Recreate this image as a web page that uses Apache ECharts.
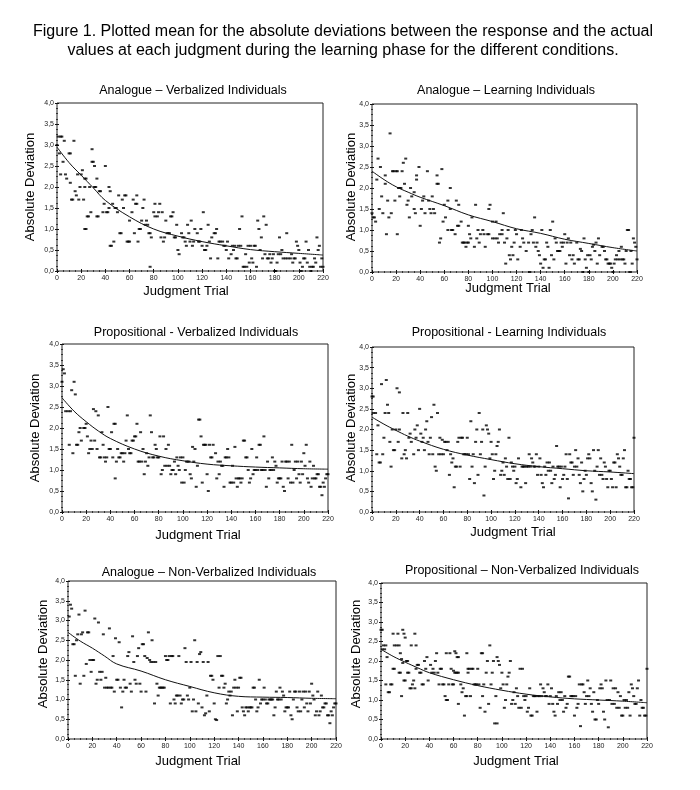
<!DOCTYPE html>
<html><head><meta charset="utf-8">
<style>html,body{margin:0;padding:0;background:#fff}#c{width:700px;height:790px}</style>
<script src="https://cdn.jsdelivr.net/npm/echarts@6/dist/echarts.min.js"></script></head>
<body><div id="c"></div>
<script>
const headline = "Figure 1. Plotted mean for the absolute deviations between the response and the actual\nvalues at each judgment during the learning phase for the different conditions.";
const panelTitles = ["Analogue \u2013 Verbalized Individuals","Analogue \u2013 Learning Individuals","Propositional - Verbalized Individuals","Propositional - Learning Individuals","Analogue \u2013 Non-Verbalized Individuals","Propositional \u2013 Non-Verbalized Individuals"];
const xTicks = [0,20,40,60,80,100,120,140,160,180,200,220];
const fitTrials = [0,10,20,30,40,60,80,100,120,140,160,180,200,220];

const fit1 = [2.95,2.58,2.28,1.98,1.68,1.29,1.0,0.83,0.7,0.6,0.51,0.46,0.42,0.38];
const fit2 = [2.4,2.2,2.03,1.9,1.78,1.58,1.36,1.2,1.03,0.92,0.78,0.68,0.58,0.5];
const fit3 = [2.72,2.4,2.15,1.93,1.75,1.5,1.33,1.22,1.14,1.1,1.07,1.05,1.03,1.02];
const fit4 = [2.3,2.13,1.98,1.84,1.72,1.52,1.38,1.27,1.17,1.1,1.05,1.0,0.97,0.93];
const fit5 = [2.7,2.48,2.3,2.1,1.9,1.72,1.5,1.33,1.17,1.08,1.06,1.05,1.03,1.02];
const fit6 = [2.3,2.12,1.97,1.83,1.7,1.52,1.37,1.25,1.15,1.08,1.03,1.0,0.97,0.93];

const pts1 = [[0,3],[1,3.2],[3,3.2],[4,3.2],[2,2.8],[3,2.3],[5,2.6],[6,3.1],[7,2.3],[8,2.2],[10,2.8],[11,2.8],[11,2.1],[12,1.7],[13,1.7],[14,3.1],[15,1.9],[16,1.8],[17,2.3],[18,1.7],[19,2],[20,2.3],[21,2.4],[22,1.7],[23,2.2],[24,2.2],[23,2],[23,1],[24,1],[25,1.3],[26,1.3],[27,2],[28,1.4],[29,2.9],[29,2.6],[30,2.6],[31,2.5],[31,2],[32,2],[33,2.2],[33,1.3],[34,1.3],[35,1.9],[36,1.9],[38,1.4],[39,1.6],[40,2.5],[41,1.4],[42,1.4],[43,1.5],[43,2],[44,1.9],[44,0.6],[45,0.6],[46,1.6],[47,0.7],[48,1.5],[49,1.5],[50,1.4],[51,1.8],[52,0.9],[53,0.9],[54,1.7],[55,1.5],[56,1.8],[57,1.8],[58,0.7],[59,0.7],[60,0.7],[60,1.2],[62,1.4],[63,1.7],[64,0.9],[65,1.6],[66,1.6],[66,1.8],[67,0.7],[68,1],[69,1],[70,1.2],[71,1.5],[72,1.7],[73,1.1],[74,1.2],[75,1.1],[76,0.9],[77,0.9],[77,0.1],[78,0.8],[80,1.4],[81,1.3],[81,1.6],[83,1.3],[84,1.4],[85,1.6],[86,0.8],[87,1.4],[88,0.7],[89,0.8],[90,1.2],[91,0.9],[92,0.9],[93,0.9],[94,1.3],[95,1.3],[96,1.4],[97,0.8],[98,0.8],[99,1.1],[100,0.5],[101,0.4],[103,0.9],[104,0.8],[105,0.8],[106,0.7],[107,0.6],[108,1.1],[109,0.9],[110,0.7],[111,1.2],[112,0.6],[113,0.7],[114,1],[116,0.9],[117,0.7],[118,0.7],[119,1],[120,0.6],[121,1.4],[122,0.5],[123,0.5],[124,0.6],[125,1.1],[126,0.7],[127,0.3],[128,0.8],[130,0.9],[131,0.9],[132,1],[133,0.3],[134,0.7],[135,0.7],[137,0.7],[138,0.6],[139,0.6],[140,0.5],[141,0.7],[142,0.3],[144,0.4],[145,0.6],[146,0.5],[147,0.6],[148,0.3],[149,0.3],[150,0.6],[151,1],[152,0.6],[153,1.3],[154,0.1],[155,0.1],[156,0.4],[157,0.1],[158,0.6],[159,0.2],[160,0.6],[161,0.3],[162,0.2],[163,0.6],[164,0.6],[165,0.1],[166,1.2],[167,1],[168,0.5],[169,0.8],[170,0.3],[171,1.3],[172,0.4],[173,1.1],[174,0.3],[175,0.3],[176,0.4],[177,0.2],[178,0.3],[179,0.4],[180,0],[181,0],[182,0.2],[183,0.4],[184,0.8],[185,0.4],[186,0.5],[187,0.3],[189,0.3],[190,0.9],[191,0.3],[193,0.3],[194,0.4],[195,0.2],[196,0.3],[197,0.3],[198,0.7],[199,0.6],[200,0.5],[201,0.2],[202,0],[203,0.1],[204,0.3],[205,0.3],[206,0.7],[207,0.2],[208,0.5],[209,0.1],[210,0],[211,0.1],[212,0.1],[213,0.3],[214,0.2],[215,0.8],[216,0.5],[217,0.6],[218,0.1],[219,0.3],[220,0.1]];

const pts2 = [[0,1.4],[1,1.3],[2,1.3],[3,1.2],[4,2.2],[5,2.7],[6,1.5],[7,2.5],[8,1.8],[9,1.4],[11,2.3],[11,2.1],[12,0.9],[13,1.7],[14,1.3],[15,3.3],[16,1.4],[17,2.4],[18,2.4],[19,1.7],[20,2.4],[21,0.9],[21,2.4],[22,2],[23,1.8],[23,2],[24,2],[25,2.4],[26,2.6],[27,2.1],[28,2.7],[29,1.6],[30,1.7],[31,1.3],[32,2],[33,1.8],[35,1.9],[35,1.5],[36,1.4],[37,2.3],[37,2.2],[39,2.5],[40,1.1],[41,1.5],[42,1.7],[43,1.8],[44,1.4],[46,2.4],[47,1.7],[48,1.5],[49,1.4],[50,1.8],[51,1.5],[52,1.4],[54,2.1],[54,2.3],[55,2.1],[56,0.7],[57,0.8],[58,2.45],[59,1.2],[60,1.6],[61,1.3],[63,1],[63,1.7],[65,1.5],[65,2],[66,1],[67,1],[69,0.9],[70,1.7],[71,1.1],[72,1.1],[72,1.6],[74,1.2],[75,0.7],[76,0.7],[77,0.7],[78,0.6],[79,0.7],[80,0.7],[80,1.1],[81,0.9],[82,0.8],[83,1.3],[85,0.6],[86,1.6],[87,0.8],[88,1],[89,0.7],[90,0.9],[92,1],[93,0.9],[94,0.6],[96,0.9],[97,0.9],[97,1.5],[98,1.6],[100,1.2],[100,0.8],[102,0.8],[103,1.2],[104,0.8],[105,0.7],[106,0.9],[108,1],[108,0.9],[109,1.4],[110,0.7],[111,0.2],[112,0.8],[113,1],[114,0.4],[115,0.3],[116,0.6],[117,0.4],[118,0.7],[119,1],[120,0.9],[121,0.3],[123,0.6],[124,1],[125,0.8],[126,0.7],[128,0.5],[130,0.7],[131,0],[132,0.9],[133,1],[134,0.7],[135,1.3],[136,0.6],[137,0.7],[138,0.5],[139,0.4],[140,0.2],[141,1],[142,0.1],[143,0.3],[144,0.3],[145,0.7],[146,0.6],[147,0.1],[148,1],[149,0.4],[150,1.2],[151,0.3],[152,0.8],[153,0.7],[154,0.5],[155,0.5],[156,0.5],[157,0.7],[158,0.6],[159,0.7],[160,0.9],[161,0.2],[162,0.7],[163,0.8],[164,0.4],[165,0.7],[166,0.3],[167,0.4],[168,0.2],[170,0.7],[171,0.3],[172,0.3],[173,0.55],[174,0.5],[175,0],[176,0.8],[177,0.3],[178,0.1],[179,0.4],[180,0],[181,0.4],[182,0.3],[183,0.6],[184,0.65],[185,0.5],[186,0.7],[187,0.2],[188,0.8],[189,0.4],[191,0.6],[192,0.6],[193,0.5],[194,0.3],[195,0.3],[196,0.2],[197,0.2],[198,0.2],[199,0.1],[200,0],[201,0.2],[202,0.3],[203,0.4],[204,0.3],[205,0.5],[206,0.3],[207,0.6],[208,0.3],[209,0.3],[210,0.2],[211,0.5],[212,1],[213,1],[214,0],[215,0.5],[216,0.2],[217,0.8],[218,0.7],[219,0.6],[220,0.3]];

const pts3 = [[0,3.1],[1,3.4],[2,3.3],[3,2.4],[5,2.4],[6,1.6],[7,2.4],[8,2.9],[9,1.4],[10,3.1],[11,2.8],[12,1.6],[13,1.6],[14,1.9],[15,2],[16,1.7],[18,2],[19,2],[20,2.1],[21,1.8],[22,1.4],[23,1.5],[24,1.7],[25,1.5],[26,2.45],[27,1.7],[28,2.4],[29,1.5],[30,2.3],[31,1.3],[32,1.3],[33,1.9],[34,1.6],[35,1.3],[36,1.2],[37,1.3],[38,2.5],[39,1.5],[40,1.5],[41,1.9],[42,1.3],[43,2.1],[44,2.1],[44,0.8],[45,1.2],[46,1.5],[47,1.3],[48,1.3],[49,1.4],[50,1.4],[51,1.2],[52,1.4],[53,1.7],[54,2.3],[55,1.5],[56,1.4],[57,1.4],[58,1.7],[59,1.7],[60,1.8],[61,1.8],[62,2.1],[63,1.2],[64,1.2],[65,1.9],[66,1.2],[67,1.5],[68,0.9],[69,1.2],[70,1.4],[71,1.1],[72,1.3],[73,2.3],[74,1.9],[75,1.3],[76,1.3],[77,1.6],[78,1.5],[79,1.3],[80,1.3],[81,1.8],[82,0.9],[83,1],[84,1.8],[85,1.1],[86,1.5],[87,1.1],[88,1.6],[89,1.1],[90,0.9],[91,1],[92,1],[93,1.2],[94,0.9],[95,1.3],[96,1.1],[97,1],[98,1.3],[99,0.7],[100,1.3],[101,0.7],[102,1],[103,1.2],[104,1.2],[105,1.2],[106,0.9],[107,0.8],[108,1.55],[109,1.2],[110,1.5],[111,0.6],[112,1.1],[113,2.2],[114,2.2],[115,1.8],[116,0.7],[117,1.6],[118,1.6],[119,1.6],[120,0.9],[121,0.5],[122,1.6],[123,1.3],[124,1.3],[125,1.6],[127,1.4],[128,0.8],[129,1.2],[130,0.9],[131,1.2],[132,1.1],[133,1.1],[134,0.6],[135,1.3],[136,1.3],[137,1.5],[138,1.3],[139,0.7],[140,0.7],[141,1.1],[142,0.7],[143,1.55],[144,0.8],[145,0.6],[146,0.8],[147,0.8],[148,0.7],[149,0.8],[150,1.7],[151,1.7],[152,1.3],[153,1.3],[154,1],[155,0.7],[156,0.8],[157,1.5],[158,0.9],[159,1],[160,1],[161,1.3],[162,1],[163,1.6],[164,1.6],[165,1],[166,1],[167,1.8],[168,1],[169,0.6],[170,1.2],[171,0.8],[172,1],[173,1],[174,1.3],[175,1],[176,1.2],[177,1.1],[178,0.7],[179,0.8],[180,0.8],[181,0.8],[182,1.2],[183,0.6],[184,0.5],[185,1.2],[186,1.2],[187,0.8],[188,1.2],[189,0.7],[190,1.6],[191,0.7],[192,1],[193,1.2],[194,0.8],[195,1.2],[196,0.9],[197,0.7],[198,1.2],[199,0.9],[200,1.4],[201,1.1],[202,1.6],[203,0.8],[204,0.7],[205,1.2],[206,0.6],[207,0.8],[208,1.1],[209,0.8],[210,0.8],[211,0.9],[212,0.9],[213,0.6],[214,0.6],[215,0.4],[216,0.7],[217,0.6],[218,0.8],[219,0.9],[220,0.9]];

const pts4 = [[0,2.8],[1,2.8],[1,2.4],[3,2.4],[4,1.4],[5,2.1],[6,1.2],[7,1.2],[8,3.1],[9,1.4],[10,1.8],[11,2.4],[12,3.2],[13,2.6],[14,2.4],[15,1.7],[16,1.1],[17,2],[18,1.5],[19,1.5],[20,2],[21,3],[22,1.7],[23,2],[23,2.9],[25,1.3],[26,2.4],[27,1.4],[28,1.5],[29,1.3],[30,2.4],[31,1.8],[32,1.9],[33,1.7],[35,1.4],[36,2],[37,1.8],[38,2.1],[39,1.5],[40,2.5],[41,1.9],[42,1.7],[43,1.8],[44,1.5],[45,2],[46,2.2],[47,1.7],[48,1.4],[49,1.8],[50,2.3],[51,1.4],[52,2.6],[53,1.1],[54,1],[55,2.4],[56,1.4],[57,1.8],[58,1.4],[59,1.75],[60,1.4],[61,1.7],[62,1.7],[63,1.5],[64,1.7],[65,0.9],[66,1.4],[67,1.2],[68,1.3],[69,0.6],[70,1.1],[71,1.1],[72,1.7],[73,1.8],[74,1.1],[75,1.8],[76,1.8],[77,1.4],[78,1.4],[79,1.4],[80,1.8],[81,1.4],[82,0.8],[83,2.2],[84,1.1],[85,1.4],[86,0.7],[87,1.7],[88,2],[89,0.9],[90,2.4],[91,1.4],[92,1.7],[93,2],[94,0.4],[95,1.1],[96,2.1],[97,2],[98,1.9],[99,1.3],[100,1.7],[101,1.4],[102,0.8],[103,1],[104,1.4],[105,1.6],[106,1.7],[107,2],[108,0.9],[109,1],[110,1.2],[111,0.9],[112,1.3],[113,1.1],[114,0.8],[115,1.8],[116,0.8],[117,1.2],[118,1.1],[119,1],[120,1.1],[121,0.7],[122,0.8],[123,1.3],[125,0.6],[126,1.1],[127,1.1],[128,1.1],[129,0.7],[130,1.1],[131,1.1],[132,1.4],[133,1.1],[134,1.3],[135,1.2],[136,1.1],[137,1.1],[138,1.4],[139,0.9],[140,1.1],[141,1.3],[142,0.9],[143,0.7],[144,0.6],[145,1.1],[146,0.9],[147,1.2],[148,1],[149,1.2],[150,1],[151,0.7],[152,1.1],[153,0.8],[154,0.9],[155,1.6],[156,1.1],[157,1.1],[158,0.6],[159,1.1],[160,0.8],[161,0.9],[162,1.1],[163,1.4],[164,0.8],[165,0.33],[166,1.4],[167,1.2],[168,1.2],[169,0.9],[170,1.1],[171,1.5],[172,1.1],[173,1.3],[174,0.9],[175,0.7],[176,1.2],[177,0.5],[178,0.8],[179,1],[180,0.9],[181,1.3],[182,1.4],[183,1.3],[184,0.7],[185,0.5],[186,1.5],[187,1],[188,0.3],[189,1.1],[190,1.5],[191,0.9],[192,1.3],[193,0.9],[194,0.8],[195,1.2],[196,1.1],[197,0.8],[198,0.6],[199,1],[200,1],[201,0.8],[202,0.6],[203,1.2],[204,1.2],[205,0.6],[206,1.4],[207,1.3],[208,1.1],[209,0.9],[210,0.9],[211,1.3],[212,1.5],[213,0.6],[214,0.6],[215,1],[216,0.8],[217,0.8],[218,0.6],[219,0.6],[220,1.8]];

const pts5 = [[1,3.1],[2,3.4],[3,3.3],[4,2.4],[5,2.4],[6,1.6],[7,2.5],[8,2.65],[9,3.15],[10,1.4],[11,2.65],[12,2.7],[13,1.6],[14,3.25],[15,1.9],[16,2.7],[17,2.7],[18,2],[19,1.7],[20,2],[21,2],[22,3.05],[23,1.4],[24,1.5],[25,2.95],[26,1.7],[27,1.5],[28,1.7],[29,2.65],[30,1.3],[31,1.55],[32,1.3],[33,1.3],[34,2.8],[35,1.3],[36,1.3],[37,2.1],[38,1.2],[39,2.55],[40,1.5],[41,1.5],[42,2.45],[43,1.3],[44,0.8],[45,1.2],[46,1.5],[47,1.3],[48,1.3],[49,2.1],[50,2.2],[51,1.4],[52,1.2],[53,2.6],[54,1.95],[55,1.5],[56,1.4],[57,2.1],[58,2.3],[59,1.4],[60,1.2],[61,2.4],[62,2.4],[63,2.1],[64,1.2],[65,2.05],[66,2.7],[67,2],[68,1.95],[69,2.5],[70,1.95],[71,0.9],[72,1.95],[73,1.4],[74,1.1],[75,1.3],[76,1.3],[77,1.3],[78,1.3],[79,1.3],[80,2.1],[81,2],[82,2],[83,2.1],[84,0.9],[85,2.1],[86,2.1],[87,1],[88,0.9],[89,1.1],[90,1.1],[91,2.1],[92,1.1],[93,0.9],[94,1],[95,1],[96,2.3],[97,1.95],[98,1.1],[99,1],[100,1.3],[101,1.95],[102,0.7],[103,1],[104,2.5],[105,0.7],[106,1.95],[107,0.9],[108,2.15],[109,2.2],[110,0.8],[111,1.95],[112,0.6],[113,0.65],[114,1.1],[115,1.95],[116,0.7],[117,1.6],[118,1.6],[119,1.5],[120,0.9],[121,0.5],[122,0.48],[123,2.1],[124,1.3],[125,2.1],[126,1.6],[127,1.6],[128,1.3],[129,1.4],[130,0.9],[131,1],[132,1.2],[133,1.1],[134,1.2],[135,0.6],[136,1.3],[137,1.5],[138,1.3],[139,0.7],[140,1.3],[141,1.55],[142,1.55],[143,0.8],[144,0.7],[145,0.6],[146,0.8],[147,0.8],[148,0.7],[149,0.8],[150,0.8],[151,0.8],[152,1.3],[153,1.3],[154,1],[155,0.7],[156,0.8],[157,1.5],[158,0.9],[159,1],[160,1],[161,1.3],[162,1],[163,0.9],[164,0.9],[165,1],[166,1],[167,1],[168,1],[169,0.6],[170,0.8],[171,1.2],[172,1],[173,1],[174,1.3],[175,1],[176,1.2],[177,1.1],[178,0.7],[179,0.8],[180,0.8],[181,0.8],[182,1.2],[183,0.6],[184,0.5],[185,1],[186,1.2],[187,1.2],[188,0.8],[189,0.7],[190,1.2],[191,0.7],[192,1],[193,1.2],[194,0.8],[195,1.2],[196,0.9],[197,0.7],[198,1.2],[199,0.9],[200,1.4],[201,1.1],[202,1],[203,0.6],[204,0.7],[205,1.2],[206,0.6],[207,0.7],[208,1.1],[209,0.8],[210,0.8],[211,0.9],[212,0.9],[213,0.6],[214,0.6],[215,0.4],[216,0.7],[217,0.6],[218,0.8],[219,0.9],[220,0.9]];

const pts6 = [[0,2.8],[1,2.8],[1,2.3],[2,2.4],[3,2.3],[4,2.4],[4,1.4],[5,2.1],[6,1.2],[7,1.2],[8,1.4],[9,1.4],[10,1.8],[10,2.7],[11,1.8],[11,2.4],[13,2.4],[14,2.7],[15,2.4],[15,1.7],[16,1.7],[16,2.2],[17,1.1],[17,2.05],[18,2.8],[18,1.95],[19,2.7],[19,1.5],[20,1.5],[20,2.6],[21,2],[22,2],[22,1.7],[23,1.7],[24,1.3],[25,1.3],[26,1.4],[25,2.4],[27,1.5],[28,2.7],[28,1.3],[29,2.4],[29,1.8],[30,1.9],[31,1.9],[32,1.7],[33,1.7],[34,1.4],[35,1.4],[36,2],[37,1.8],[38,2.1],[39,1.5],[41,1.9],[42,1.7],[43,1.8],[44,1.7],[45,2],[46,2.2],[47,1.7],[48,1.4],[49,1.8],[50,1.8],[51,1.4],[52,1.4],[53,1.1],[54,1],[54,2.2],[55,1],[56,1.4],[57,2.2],[58,1.8],[59,1.4],[60,1.75],[60,1.4],[61,1.7],[61,2.25],[62,1.7],[62,2.2],[63,1.7],[63,2.1],[64,2.1],[64,1.7],[64,0.9],[66,1.4],[67,1.2],[68,1.3],[69,0.6],[70,1.1],[71,1.1],[71,2.2],[72,1.7],[72,1.8],[73,1.8],[74,1.1],[75,1.8],[76,1.8],[77,1.4],[78,1.4],[79,1.4],[80,1.8],[81,1.4],[82,0.8],[83,2.2],[84,2.2],[84,1.1],[85,1.4],[86,0.7],[87,1.7],[88,2],[89,0.9],[90,2.4],[91,1.4],[92,1.7],[93,2],[94,0.4],[95,1.1],[96,0.4],[96,2.1],[97,2],[98,1.9],[99,1.3],[100,1.7],[101,1.4],[102,0.8],[103,1],[104,1.4],[105,1.6],[106,1.7],[107,2],[108,0.9],[109,1],[110,1.2],[111,0.9],[112,1.3],[113,1.1],[114,0.8],[115,1.8],[116,0.8],[117,1.8],[118,1.1],[119,1],[120,1.1],[121,0.7],[122,0.8],[123,1.3],[124,0.6],[125,0.6],[126,1.1],[127,1.1],[128,1.1],[129,0.7],[130,1.1],[131,1.1],[132,1.4],[133,1.1],[134,1.3],[135,1.2],[136,1.1],[137,1.1],[138,1.4],[139,0.9],[140,1.1],[141,1.3],[142,0.9],[143,0.7],[144,0.6],[145,1.1],[146,0.9],[147,1.2],[148,1],[149,1.2],[150,1],[151,0.7],[152,1.1],[153,0.8],[154,0.9],[155,1.6],[156,1.6],[157,1.1],[158,1.1],[159,1.1],[160,0.6],[161,1.1],[162,0.8],[163,0.9],[164,1.4],[165,0.33],[166,1.4],[167,1.4],[168,1.2],[169,0.9],[170,1.1],[171,1.5],[172,1.1],[173,1.3],[174,0.9],[175,0.7],[176,1.2],[177,0.5],[178,0.5],[179,1],[180,0.9],[181,1.3],[182,1.4],[183,1.3],[184,0.7],[185,0.5],[186,1.5],[187,1],[188,0.3],[189,1],[190,1.5],[191,0.9],[192,1.3],[193,0.9],[194,1.3],[195,0.8],[196,1.2],[197,0.8],[198,1.1],[199,0.6],[200,0.6],[201,1],[202,0.8],[203,1],[204,0.8],[205,1.2],[206,0.6],[207,1.4],[208,1.3],[209,1.1],[210,0.9],[211,0.9],[212,1.3],[213,1.5],[214,0.6],[215,1],[216,0.8],[217,0.8],[218,0.6],[219,0.6],[220,1.8]];

const allPts = [pts1,pts2,pts3,pts4,pts5,pts6];
const allFits = [fit1,fit2,fit3,fit4,fit5,fit6];
const boxes = [
 {l:57,r:323,t:103,b:271,tx:188,ty:86,nameX:40,fz:12.5,xn:186,yn:291},
 {l:372,r:637,t:104,b:272,tx:501,ty:86,nameX:0,fz:12.5,xn:508,yn:288},
 {l:62,r:328,t:344,b:512,tx:191,ty:328,nameX:0,fz:12.5,xn:198,yn:535},
 {l:372,r:634,t:347,b:512,tx:504,ty:328,nameX:0,fz:12.5,xn:513,yn:532},
 {l:68,r:336,t:581,b:739,tx:204,ty:568,nameX:0,fz:12.5,xn:198,yn:761},
 {l:381,r:647,t:583,b:739,tx:517,ty:566,nameX:0,fz:12.5,xn:516,yn:761}
];
const yNameX = [30,351,35,351,43,356];
const yNameY = [187,187,428,428,654,654];

const font = '"Liberation Sans", Arial, sans-serif';
const grid=[],xAxis=[],yAxis=[],series=[],title=[],graphic=[];
title.push({text:headline,left:338,top:17,textAlign:'center',textStyle:{fontFamily:font,fontSize:16,fontWeight:'normal',color:'#000',lineHeight:19}});
boxes.forEach((b,i)=>{
  const w=b.r-b.l,h=b.b-b.t;
  grid.push({left:b.l,top:b.t,width:w,height:h,show:true,borderColor:'#222',borderWidth:1,backgroundColor:'#fff'});
  const tickCommon={axisLine:{show:false},axisTick:{show:true,inside:true,length:2,lineStyle:{color:'#111',width:1}},minorTick:{show:true,splitNumber:4,length:1,lineStyle:{color:'#333'}},splitLine:{show:false}};
  xAxis.push({gridIndex:i,type:'value',min:0,max:220,interval:20,...tickCommon,axisLabel:{fontFamily:font,fontSize:7,color:'#222',margin:4,formatter:v=>String(v)}});
  xAxis.push({gridIndex:i,type:'value',position:'top',min:0,max:220,interval:20,...tickCommon,axisLabel:{show:false}});
  yAxis.push({gridIndex:i,type:'value',min:0,max:4,interval:0.5,...tickCommon,axisLabel:{fontFamily:font,fontSize:7,color:'#222',margin:3,formatter:v=>v.toFixed(1).replace('.',',')}});
  yAxis.push({gridIndex:i,type:'value',position:'right',min:0,max:4,interval:0.5,...tickCommon,axisLabel:{show:false}});
  series.push({type:'scatter',xAxisIndex:i*2,yAxisIndex:i*2,data:allPts[i],symbol:'rect',symbolSize:[3,2],itemStyle:{color:'#000'},silent:true,clip:false,z:3});
  series.push({type:'line',xAxisIndex:i*2,yAxisIndex:i*2,data:fitTrials.map((t,k)=>[t,allFits[i][k]]),smooth:0.4,symbol:'none',lineStyle:{color:'#111',width:1},silent:true,z:4});
  title.push({text:panelTitles[i],left:b.tx,top:b.ty-7,textAlign:'center',textStyle:{fontFamily:font,fontSize:12.5,fontWeight:'normal',color:'#000'}});
  graphic.push({type:'text',x:b.xn,y:b.yn,style:{text:'Judgment Trial',font:'13px '+font,fill:'#000',textAlign:'center',textVerticalAlign:'middle'}});
  graphic.push({type:'text',x:yNameX[i],y:yNameY[i],rotation:Math.PI/2,style:{text:'Absolute Deviation',font:'13px '+font,fill:'#000',textAlign:'center',textVerticalAlign:'middle'}});
});
const chart=echarts.init(document.getElementById('c'),null,{renderer:'canvas',width:700,height:790});
chart.setOption({animation:false,backgroundColor:'#fff',title,grid,xAxis,yAxis,series,graphic});
</script></body></html>
